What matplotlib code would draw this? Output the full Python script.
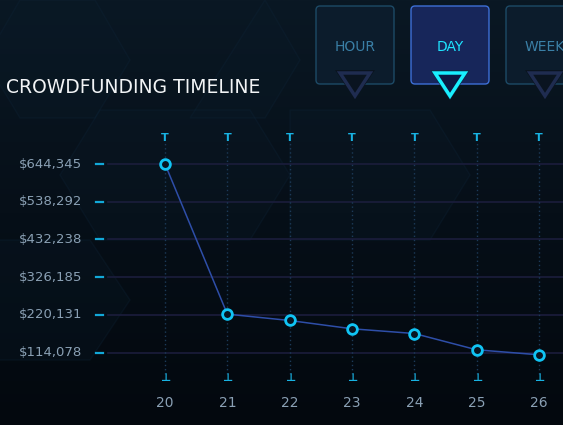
import numpy as np
import matplotlib.pyplot as plt
from matplotlib.patches import FancyBboxPatch, Polygon
import matplotlib.transforms as mtransforms

# data
days = [20, 21, 22, 23, 24, 25, 26]
amounts = [644345, 222000, 204100, 180800, 167500, 121700, 107600]
ytick_vals = [114078, 220131, 326185, 432238, 538292, 644345]
ytick_labels = ['$114,078', '$220,131', '$326,185', '$432,238', '$538,292', '$644,345']
buttons = ['HOUR', 'DAY', 'WEEK']

W, H = 563, 425
fig = plt.figure(figsize=(W / 100, H / 100), dpi=100)
fig.patch.set_facecolor('#050c14')

# background layer in pixel coords
bg = fig.add_axes([0, 0, 1, 1])
bg.set_xlim(0, W)
bg.set_ylim(H, 0)
bg.axis('off')
grad = np.linspace(0, 1, 200)[:, None]
bg.imshow(grad, extent=[0, W, H, 0], cmap=plt.matplotlib.colors.LinearSegmentedColormap.from_list(
    'bgc', ['#0a1824', '#060f18', '#03080e']), aspect='auto', zorder=0)

# faint hexagon outlines
hexes = [
    [(20, 0), (95, 0), (130, 60), (95, 118), (20, 118), (-15, 60)],
    [(265, 0), (300, 60), (265, 118), (190, 118)],
    [(100, 110), (250, 110), (290, 175), (250, 240), (100, 240), (60, 175)],
    [(290, 110), (430, 110), (470, 175), (430, 240), (290, 240)],
    [(-10, 240), (90, 240), (130, 300), (90, 360), (-10, 360)],
]
for pts in hexes:
    bg.add_patch(Polygon(pts, closed=True, fill=True, facecolor='#0b1c2a', alpha=0.25,
                         edgecolor='#10283e', lw=1.0, zorder=1))

# buttons
bx = [355, 450, 545]
for i, (cx, lab) in enumerate(zip(bx, buttons)):
    active = lab == 'DAY'
    bg.add_patch(FancyBboxPatch((cx - 39, 6), 78, 78, boxstyle='round,pad=0,rounding_size=4',
                                facecolor='#17265a' if active else '#0c1c2c',
                                edgecolor='#3d6fd6' if active else '#1d4a66', lw=1.0, zorder=3))
    tri = [(cx - 15, 73), (cx + 15, 73), (cx, 96)]
    if active:
        bg.add_patch(Polygon([(cx - 20, 70), (cx + 20, 70), (cx, 100)], closed=True,
                             facecolor='#0d2a4a', edgecolor='none', zorder=4))
        bg.add_patch(Polygon(tri, closed=True, facecolor='#0b1a44', edgecolor='#19f0ff',
                             lw=2.5, zorder=5))
    else:
        bg.add_patch(Polygon([(cx - 20, 70), (cx + 20, 70), (cx, 100)], closed=True,
                             facecolor='#0a1420', edgecolor='none', zorder=4))
        bg.add_patch(Polygon(tri, closed=True, facecolor='none', edgecolor='#1f2c50',
                             lw=2.5, zorder=5))
    bg.text(cx, 47, lab, color='#1ee4ff' if active else '#3a7fa6', fontsize=10,
            ha='center', va='center', family='DejaVu Sans', zorder=6)

bg.text(6, 87, 'CROWDFUNDING TIMELINE', color='#f2f4f6', fontsize=13.5,
        ha='left', va='center', family='DejaVu Sans', zorder=6)

# chart axes: pixel box x 130..563, y 125..390
left, right, top, bot = 130, 563, 125, 390
ax = fig.add_axes([left / W, 1 - bot / H, (right - left) / W, (bot - top) / H])
ax.set_facecolor('none')
px_x = 62.33
x0 = 20 - (165 - left) / px_x
x1 = 20 + (right - 165) / px_x
upp = 106053 / 37.7
y_top = 644345 + (164 - top) * upp
y_bot = 644345 - (bot - 164) * upp
ax.set_xlim(x0, x1)
ax.set_ylim(y_bot, y_top)
for s in ax.spines.values():
    s.set_visible(False)
ax.set_xticks([])
ax.set_yticks([])

# horizontal grid lines, extended to the left
trans_y = mtransforms.blended_transform_factory(ax.transAxes, ax.transData)
for v, lab in zip(ytick_vals, ytick_labels):
    ax.plot([-0.05, 1], [v, v], color='#1b1d3c', lw=1.2, transform=trans_y, clip_on=False, zorder=1)
    ax.plot([-0.078, -0.062], [v, v], color='#12a8d8', lw=1.6, transform=trans_y, clip_on=False, zorder=2)
    ax.text(-0.11, v, lab, color='#8aa0b4', fontsize=9.5, ha='right', va='center',
            transform=trans_y, family='DejaVu Sans')

# vertical dotted lines and T markers
trans_x = mtransforms.blended_transform_factory(ax.transData, ax.transAxes)
for d in days:
    ax.plot([d, d], [0.06, 0.94], color='#1c3a58', lw=1, ls=(0, (1, 2)), transform=trans_x, zorder=1)
    ax.text(d, 1 - (138 - top) / (bot - top), 'T', color='#18b2e2', fontsize=8, fontweight='bold',
            ha='center', va='center', transform=trans_x)
    ax.text(d, 1 - (378 - top) / (bot - top), '\u22a5', color='#18b2e2', fontsize=8, fontweight='bold',
            ha='center', va='center', transform=trans_x)
    ax.text(d, 1 - (403 - top) / (bot - top), str(d), color='#8aa0b4', fontsize=10,
            ha='center', va='center', transform=trans_x, clip_on=False)

ax.plot(days, amounts, color='#2e4ea8', lw=1.1, zorder=3)
ax.plot(days, amounts, ls='none', marker='o', ms=7, mfc='#071522', mec='#10c4f4',
        mew=2, zorder=4)

fig.savefig('out.png', dpi=100, facecolor=fig.get_facecolor())
